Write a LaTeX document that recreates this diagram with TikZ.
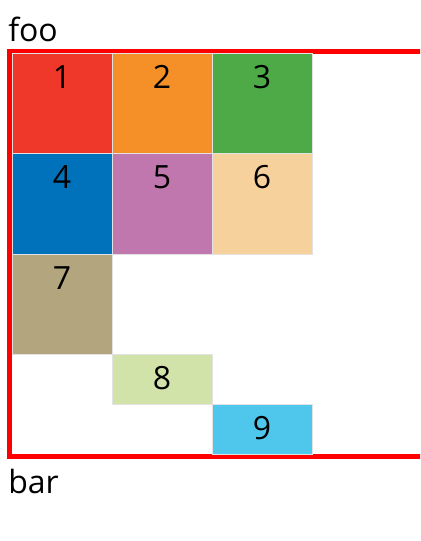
\documentclass[tikz,border=0pt]{standalone}
\usepackage{fontspec}
\setmainfont{Open Sans}
\usetikzlibrary{positioning}

\definecolor{boxred}{HTML}{EF3829}
\definecolor{boxorange}{HTML}{F58F27}
\definecolor{boxgreen}{HTML}{4DAA47}
\definecolor{boxblue}{HTML}{0072BC}
\definecolor{boxpurple}{HTML}{C077AE}
\definecolor{boxpeach}{HTML}{F7D19C}
\definecolor{boxtan}{HTML}{B3A57D}
\definecolor{boxlime}{HTML}{D2E3AA}
\definecolor{boxcyan}{HTML}{4FC6EC}
\definecolor{boxline}{HTML}{E2E2E2}

\tikzset{
  cell/.style={draw=boxline, line width=0.75pt, inner sep=0pt, outer sep=0pt,
    minimum width=75pt, text height=26.25pt, text depth=48.75pt,
    font=\fontsize{24}{29}\selectfont},
  halfcell/.style={cell, text depth=11.25pt},
  caption/.style={anchor=base west, inner sep=0pt, font=\fontsize{24}{29}\selectfont}
}

\begin{document}
\begin{tikzpicture}[x=0.75pt, y=-0.75pt]
      \useasboundingbox (0, 0) rectangle (420, 541);
      \clip (0, 0) rectangle (420, 541);

      % Labels
      \node [caption] (foo) at (8, 42) {foo};
      \node [caption] (bar) at (8, 493) {bar};

      % Container
      \draw [red, line width=3.75pt] (9.5, 51.5) rectangle (430, 456.5);

      % Items
      \node [cell, fill=boxred, anchor=north west] (c1) at (12, 54) {1};
      \node [cell, fill=boxorange, right=0pt of c1] (c2) {2};
      \node [cell, fill=boxgreen, right=0pt of c2] (c3) {3};
      \node [cell, fill=boxblue, below=0pt of c1] (c4) {4};
      \node [cell, fill=boxpurple, right=0pt of c4] (c5) {5};
      \node [cell, fill=boxpeach, right=0pt of c5] (c6) {6};
      \node [cell, fill=boxtan, below=0pt of c4] (c7) {7};
      \node [halfcell, fill=boxlime, below right=0pt of c7] (c8) {8};
      \node [halfcell, fill=boxcyan, below right=0pt of c8] (c9) {9};
    \end{tikzpicture}
\end{document}
